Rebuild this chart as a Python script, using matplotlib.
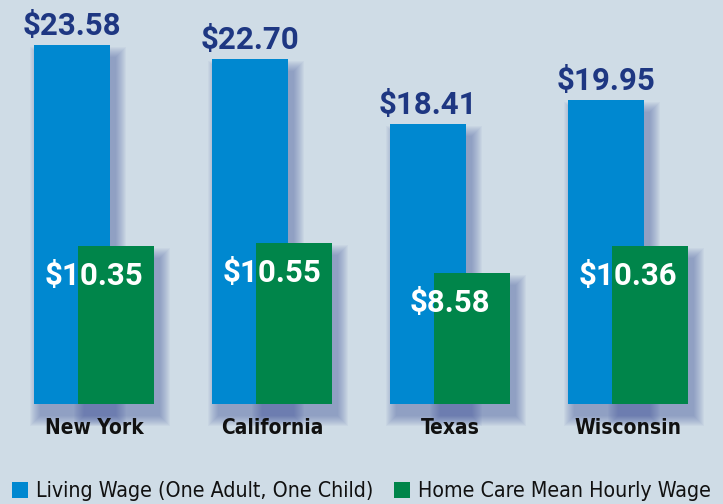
import numpy as np
import matplotlib.pyplot as plt
from matplotlib import font_manager as fm

# data
states = ["New York", "California", "Texas", "Wisconsin"]
living_wage = [23.58, 22.70, 18.41, 19.95]
home_care = [10.35, 10.55, 8.58, 10.36]
living_labels = ["$23.58", "$22.70", "$18.41", "$19.95"]
home_labels = ["$10.35", "$10.55", "$8.58", "$10.36"]

bg = "#cfdce6"
blue = "#0088d0"
green = "#00854a"
navy = "#1e3782"
shadow = "#4a5aa0"

numfont = ["Roboto", "Liberation Sans", "DejaVu Sans"]

# look for a narrow / condensed face, else use Liberation Sans a bit smaller
narrow_reg = narrow_bold = None
for f in fm.fontManager.ttflist:
    fn = f.fname.lower()
    if "narrow" in fn or "condensed" in fn:
        if "italic" in fn or "oblique" in fn:
            continue
        w = f.weight if isinstance(f.weight, int) else (700 if "bold" in str(f.weight) else 400)
        if w >= 700 and narrow_bold is None:
            narrow_bold = f.fname
        elif w < 600 and narrow_reg is None:
            narrow_reg = f.fname

if narrow_reg and narrow_bold:
    cat_font = fm.FontProperties(fname=narrow_bold, size=15)
    leg_font = fm.FontProperties(fname=narrow_reg, size=15.3)
else:
    cat_font = fm.FontProperties(family=["Liberation Sans", "DejaVu Sans"], weight="bold", size=15)
    leg_font = fm.FontProperties(family=["Liberation Sans", "DejaVu Sans"], size=14)

fig = plt.figure(figsize=(7.23, 5.04), dpi=100, facecolor=bg)
ax = fig.add_axes([0, 0, 1, 1])
ax.set_facecolor(bg)
ax.axis("off")

# pixel -> data units (178 px between groups, 15.2 px per dollar)
px_x = 1 / 178
px_y = 1 / 15.2
ax.set_xlim(-94 * px_x, (723 - 94) * px_x)
ax.set_ylim(-(504 - 403.7) * px_y, 403.7 * px_y)

x = np.arange(len(states))
w = 76 * px_x
x_blue = x - 22 * px_x
x_green = x + 22 * px_x
lw = np.array(living_wage)
hc = np.array(home_care)

# soft drop shadows
dx, dy = 6 * px_x, 12 * px_y
for s in range(0, 11):
    for xs, hs in ((x_blue, lw), (x_green, hc)):
        ax.bar(xs + dx, hs + 2 * s * px_y, width=w + 2 * s * px_x,
               bottom=-dy - s * px_y, color=shadow, alpha=0.05,
               linewidth=0, zorder=1)

b1 = ax.bar(x_blue, lw, width=w, color=blue, linewidth=0, zorder=2,
            label="Living Wage (One Adult, One Child)")
b2 = ax.bar(x_green, hc, width=w, color=green, linewidth=0, zorder=3,
            label="Home Care Mean Hourly Wage")

for i in range(len(states)):
    ax.text(x_blue[i], lw[i] + 10 * px_y, living_labels[i], ha="center",
            va="baseline", color=navy, fontsize=22.5, fontweight="bold",
            family=numfont, zorder=4)
    ax.text(x[i], hc[i] - 39 * px_y, home_labels[i], ha="center",
            va="baseline", color="white", fontsize=22.5, fontweight="bold",
            family=numfont, zorder=4)
    ax.text(x[i], -24 * px_y, states[i], ha="center", va="center",
            color="#111111", fontproperties=cat_font)

fig.legend(handles=[b1, b2], loc="lower center", bbox_to_anchor=(0.5, -0.022),
           ncol=2, frameon=False, prop=leg_font,
           handlelength=0.75, handleheight=0.75, handletextpad=0.35,
           columnspacing=1.0, borderaxespad=0.25, labelcolor="#111111")

fig.savefig("out.png", dpi=100, facecolor=bg)
